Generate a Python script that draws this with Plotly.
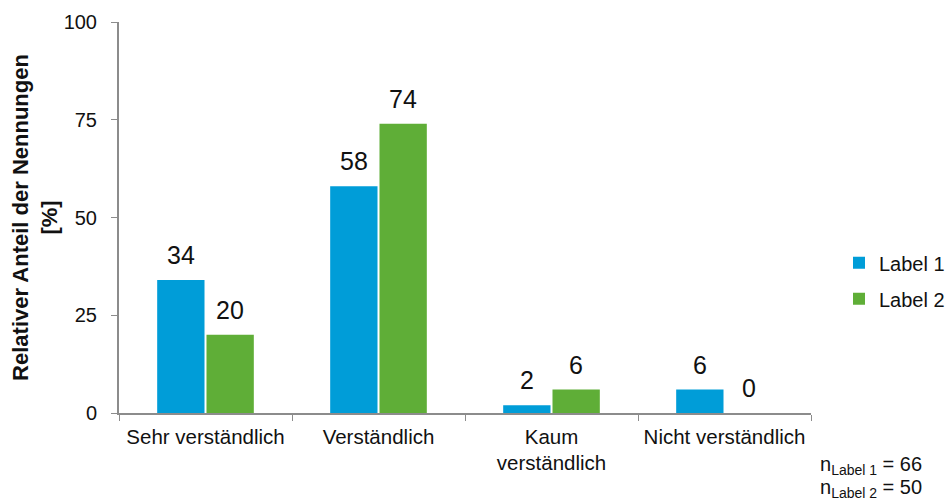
import plotly.graph_objects as go

categories = ["Sehr verständlich", "Verständlich", "Kaum<br>verständlich", "Nicht verständlich"]
label1_values = [34, 58, 2, 6]
label2_values = [20, 74, 6, 0]
series_names = ["Label 1", "Label 2"]
n_counts = [66, 50]

colors = ["#009dd8", "#5fae37"]
font_family = "Liberation Sans, Arial, sans-serif"

# plot geometry (pixels)
L, R, T, B = 119, 135, 22, 88
W, H = 946, 501
plot_w = W - L - R
bargap, bargroupgap = 0.43, 0.04
cat_w = plot_w / len(categories)
group_w = cat_w * (1 - bargap)
slot_w = group_w / len(series_names)

fig = go.Figure()
all_series = [label1_values, label2_values]
for i, (name, vals, col) in enumerate(zip(series_names, all_series, colors)):
    fig.add_trace(go.Bar(
        x=categories, y=vals, name=name, legendgroup=name,
        marker=dict(color=col, line=dict(width=0)),
    ))
    # value labels above each bar
    shift = (i - (len(series_names) - 1) / 2) * slot_w
    for c, v in zip(categories, vals):
        fig.add_annotation(
            x=c, y=v, text=str(v), showarrow=False, xshift=shift,
            yanchor="bottom", yshift=9,
            font=dict(size=25, color="#111111", family=font_family),
        )

fig.update_layout(
    width=W, height=H,
    margin=dict(l=L, r=R, t=T, b=B, autoexpand=False),
    paper_bgcolor="white", plot_bgcolor="white",
    font=dict(family=font_family, color="#111111", size=20),
    barmode="group", bargap=bargap, bargroupgap=bargroupgap,
    showlegend=True,
    legend=dict(x=1 + (839 - (W - R)) / plot_w, y=0.338, xanchor="left",
                yanchor="middle", font=dict(size=20), itemwidth=30,
                traceorder="grouped", tracegroupgap=7,
                bgcolor="rgba(0,0,0,0)"),
)
fig.update_xaxes(
    type="category", showline=True, linecolor="#8c8c8c", linewidth=2,
    ticks="outside", tickson="boundaries", ticklen=6, tickcolor="#8c8c8c",
    tickwidth=1, tickfont=dict(size=20.5), ticklabelstandoff=4,
    showgrid=False,
)
fig.update_yaxes(
    range=[0, 100], tickvals=[0, 25, 50, 75, 100], showline=True,
    linecolor="#8c8c8c", linewidth=2, ticks="outside", ticklen=6,
    tickcolor="#8c8c8c", tickwidth=1, showgrid=False, zeroline=False,
    tickfont=dict(size=20), ticklabelstandoff=10,
    title=dict(text="<b>Relativer Anteil der Nennungen<br>[%]</b>",
               font=dict(size=22), standoff=0),
)

# sample sizes, bottom right
for k, (s, n) in enumerate(zip(series_names, n_counts)):
    fig.add_annotation(
        xref="paper", yref="paper", x=1.01, y=-0.133 - k * 0.059,
        xanchor="left", yanchor="middle",
        text=f"n<sub>{s}</sub> = {n}",
        showarrow=False, align="left", font=dict(size=20),
    )

fig.write_html("out.html")
